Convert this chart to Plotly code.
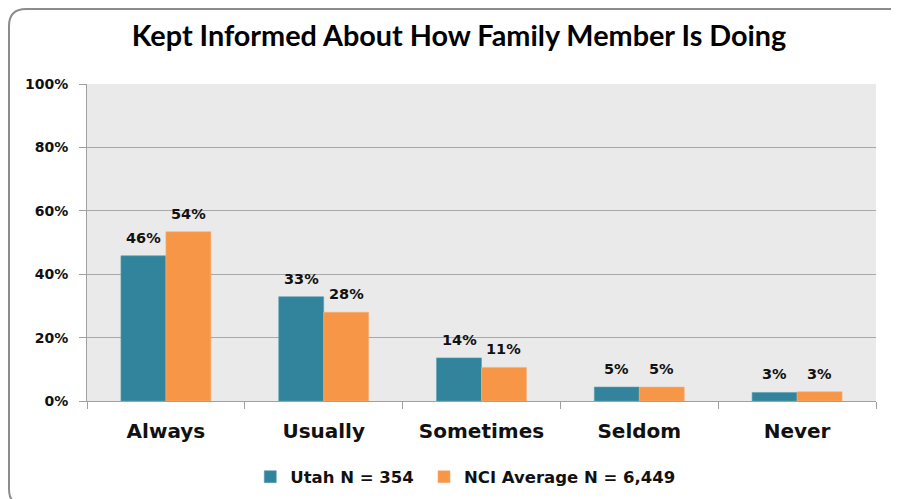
import plotly.graph_objects as go

categories = ["Always", "Usually", "Sometimes", "Seldom", "Never"]
utah_values = [45.8, 32.9, 13.6, 4.4, 2.7]
nci_values = [53.4, 28.0, 10.6, 4.4, 2.9]
utah_labels = ["46%", "33%", "14%", "5%", "3%"]
nci_labels = ["54%", "28%", "11%", "5%", "3%"]
series_names = ["Utah N = 354", "NCI Average N = 6,449"]
y_tick_vals = [0, 20, 40, 60, 80, 100]
y_tick_text = ["0%", "20%", "40%", "60%", "80%", "100%"]

# the page body adds an 8px offset, so figure coords = screen coords - 8
W, H = 899, 499
L, R, T, B = 79, 31, 76, 106
pw, ph = W - L - R, H - T - B

def px(x):
    return (x - L) / pw

def py(y):
    return (H - B - y) / ph

BAR_W = pw / len(categories) * 0.57 / 2

fig = go.Figure()
fig.add_trace(go.Bar(
    x=categories, y=utah_values, name="<b>" + series_names[0] + "</b>&nbsp;",
    marker=dict(color="#31849B", line=dict(color="#5AA0B3", width=0.6)),
))
fig.add_trace(go.Bar(
    x=categories, y=nci_values, name="<b>" + series_names[1] + "</b>",
    marker=dict(color="#F79646", line=dict(color="#F9B07A", width=0.6)),
))

annotations = []
for vals, labs, sx in ((utah_values, utah_labels, -BAR_W / 2), (nci_values, nci_labels, BAR_W / 2)):
    for c, v, t in zip(categories, vals, labs):
        annotations.append(dict(
            x=c, y=v, xref="x", yref="y", text="<b>" + t + "</b>",
            showarrow=False, xanchor="center", yanchor="bottom",
            xshift=sx, yshift=8,
            font=dict(family="DejaVu Sans", size=14.5, color="#111111"),
        ))

# rounded border path in paper coords (figure pixel coords)
x0, x1, y0, y1, r = 1, 900, 1, 498, 17
path = (
    f"M {px(x0 + r)},{py(y0)} L {px(x1 - r)},{py(y0)} "
    f"Q {px(x1)},{py(y0)} {px(x1)},{py(y0 + r)} "
    f"L {px(x1)},{py(y1 - r)} Q {px(x1)},{py(y1)} {px(x1 - r)},{py(y1)} "
    f"L {px(x0 + r)},{py(y1)} Q {px(x0)},{py(y1)} {px(x0)},{py(y1 - r)} "
    f"L {px(x0)},{py(y0 + r)} Q {px(x0)},{py(y0)} {px(x0 + r)},{py(y0)} Z"
)

fig.update_layout(
    width=W, height=H,
    margin=dict(l=L, r=R, t=T, b=B, autoexpand=False),
    paper_bgcolor="white",
    plot_bgcolor="#EAEAEA",
    barmode="group",
    bargap=0.43,
    bargroupgap=0,
    title=dict(
        text="<b>Kept Informed About How Family Member Is Doing</b>",
        x=451 / W, xanchor="center", y=1 - 28 / H, yanchor="middle",
        font=dict(family="Lato", size=28.8, color="#000000"),
    ),
    legend=dict(
        orientation="h", x=431 / W, xanchor="center",
        y=py(469), yanchor="middle",
        font=dict(family="DejaVu Sans", size=16.5, color="#111111"),
        itemwidth=30, traceorder="normal",
    ),
    xaxis=dict(
        showgrid=False, showline=True, linecolor="#A0A0A0", linewidth=1,
        ticks="outside", tickson="boundaries", ticklen=7, tickcolor="#A0A0A0",
        tickfont=dict(family="DejaVu Sans", size=20, color="#111111"),
        tickprefix="<b>", ticksuffix="</b>",
        ticklabelstandoff=12,
    ),
    yaxis=dict(
        range=[0, 100], tickvals=y_tick_vals,
        ticktext=["<b>" + t + "</b>" for t in y_tick_text],
        showgrid=True, gridcolor="#A8A8A8", gridwidth=1,
        showline=True, linecolor="#A0A0A0", linewidth=1,
        ticks="outside", ticklen=7, tickcolor="#A0A0A0",
        tickfont=dict(family="DejaVu Sans", size=14, color="#111111"),
        ticklabelstandoff=8,
        zeroline=False,
    ),
    shapes=[dict(type="path", path=path, xref="paper", yref="paper",
                 line=dict(color="#8C8C8C", width=2), layer="below")],
    annotations=annotations,
    font=dict(family="DejaVu Sans"),
    showlegend=True,
)

fig.write_html("out.html")
